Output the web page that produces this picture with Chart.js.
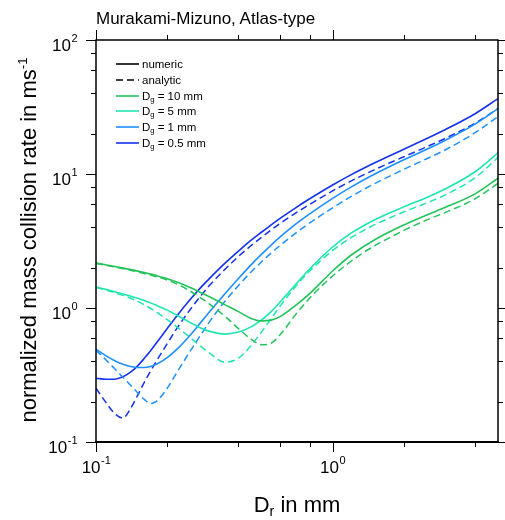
<!DOCTYPE html>
<html>
<head>
<meta charset="utf-8">
<script src="https://cdn.jsdelivr.net/npm/chart.js@4.4.1/dist/chart.umd.min.js"></script>
<style>
  html, body { margin: 0; padding: 0; background: #fff; }
  #wrap { position: relative; width: 505px; height: 520px; font-family: "Liberation Sans", Arial, sans-serif; color: #000; }
  #wrap canvas { position: absolute; left: 0; top: 0; }
  .lbl { position: absolute; white-space: nowrap; }
  #title { left: 96px; top: 9px; font-size: 17px; line-height: 20px; }
  #xtitle { left: 197px; width: 200px; top: 494px; text-align: center; font-size: 22px; line-height: 22px; }
  #ytitle { left: -181px; width: 420px; top: 229px; text-align: center; font-size: 22px; line-height: 22px; transform: rotate(-90deg); }
  sub { font-size: 0.65em; vertical-align: -0.3em; line-height: 0; }
  sup { font-size: 0.6em; vertical-align: 0.7em; line-height: 0; }
  .row { position: absolute; left: 116px; height: 16px; font-size: 11.5px; line-height: 16px; white-space: nowrap; }
  .row svg { position: absolute; left: 0; top: 0; }
  .row span { position: absolute; left: 26px; top: 0; }
</style>
</head>
<body>
<div id="wrap">
  <canvas id="chart" width="505" height="520"></canvas>
  <div class="lbl" id="title">Murakami-Mizuno, Atlas-type</div>
  <div class="lbl" id="xtitle">D<sub>r</sub> in mm</div>
  <div class="lbl" id="ytitle">normalized mass collision rate in ms<sup>-1</sup></div>
  <div id="legend"></div>
</div>
<script>
// rain drop diameter D_r in mm
const diameters = [0.1, 0.11, 0.12, 0.13, 0.14, 0.15, 0.16, 0.17, 0.18, 0.2, 0.22, 0.25, 0.28, 0.3, 0.35,
  0.4, 0.45, 0.5, 0.55, 0.6, 0.7, 0.8, 1, 1.2, 1.5, 2, 2.5, 3, 4, 5];

// Dg = 10 mm
const numeric10 = [2.167, 2.1, 2.04, 1.985, 1.934, 1.885, 1.836, 1.79, 1.745, 1.656, 1.563, 1.421, 1.292, 1.217, 1.06,
  0.94, 0.84, 0.801, 0.812, 0.863, 1.051, 1.282, 1.888, 2.486, 3.22, 4.169, 4.953, 5.637, 7.11, 9.29];
const analytic10 = [2.148, 2.083, 2.023, 1.964, 1.91, 1.859, 1.808, 1.759, 1.711, 1.617, 1.509, 1.337, 1.175, 1.079, 0.87,
  0.701, 0.59, 0.532, 0.546, 0.632, 0.9, 1.186, 1.733, 2.243, 2.904, 3.793, 4.543, 5.171, 6.526, 8.516];

// Dg = 5 mm
const numeric5 = [1.433, 1.378, 1.324, 1.274, 1.227, 1.182, 1.136, 1.092, 1.047, 0.964, 0.882, 0.778, 0.704, 0.672, 0.638,
  0.661, 0.72, 0.813, 0.94, 1.107, 1.509, 1.954, 2.853, 3.631, 4.543, 5.683, 6.69, 7.75, 10.39, 14.39];
const analytic5 = [1.421, 1.361, 1.301, 1.242, 1.182, 1.12, 1.057, 0.995, 0.932, 0.819, 0.72, 0.601, 0.51, 0.464, 0.394,
  0.422, 0.519, 0.661, 0.833, 1.033, 1.458, 1.888, 2.688, 3.362, 4.169, 5.212, 6.092, 6.985, 9.38, 13.25];

// Dg = 1 mm
const numeric1 = [0.493, 0.441, 0.404, 0.38, 0.366, 0.36, 0.36, 0.366, 0.38, 0.426, 0.493, 0.627, 0.798, 0.924, 1.27,
  1.66, 2.08, 2.51, 2.95, 3.39, 4.24, 5.04, 6.58, 8.02, 9.95, 12.77, 15.3, 17.87, 23.54, 30.74];
const analytic1 = [0.484, 0.411, 0.352, 0.304, 0.265, 0.233, 0.208, 0.194, 0.201, 0.252, 0.332, 0.476, 0.649, 0.778, 1.117,
  1.471, 1.84, 2.205, 2.574, 2.929, 3.632, 4.315, 5.587, 6.81, 8.45, 10.84, 13.0, 15.17, 20.33, 26.78];

// Dg = 0.5 mm
const numeric05 = [0.299, 0.294, 0.294, 0.307, 0.332, 0.37, 0.421, 0.48, 0.548, 0.703, 0.877, 1.156, 1.449, 1.644, 2.152,
  2.661, 3.177, 3.675, 4.176, 4.663, 5.617, 6.53, 8.28, 9.9, 12.08, 15.32, 18.39, 21.48, 28.17, 36.5];
const analytic05 = [0.252, 0.198, 0.163, 0.151, 0.178, 0.223, 0.279, 0.337, 0.401, 0.542, 0.707, 0.973, 1.259, 1.458, 1.936,
  2.423, 2.901, 3.362, 3.826, 4.279, 5.128, 5.934, 7.48, 8.89, 10.74, 13.45, 15.97, 18.48, 23.93, 30.74];

// ticks
const xTicks = [0.1, 0.2, 0.4, 0.6, 0.8, 1, 2, 4];
const yTicks = [0.1, 0.2, 0.4, 0.6, 0.8, 1, 2, 4, 6, 8, 10, 20, 40, 60, 80, 100];
const xMajor = [0.1, 1];
const xMajorExp = ["-1", "0"];
const yMajor = [0.1, 1, 10, 100];
const yMajorExp = ["-1", "0", "1", "2"];

const series = [
  { name: "10 mm", color: "#22c35a", numeric: numeric10, analytic: analytic10 },
  { name: "5 mm", color: "#1ee6b0", numeric: numeric5, analytic: analytic5 },
  { name: "1 mm", color: "#1e90ff", numeric: numeric1, analytic: analytic1 },
  { name: "0.5 mm", color: "#1432f0", numeric: numeric05, analytic: analytic05 },
];

const dash = [7, 4];
let datasets = [];
series.forEach((s) => {
  datasets.push({
    data: diameters.map((d, i) => ({ x: d, y: s.analytic[i] })),
    borderColor: s.color,
    borderWidth: 1.5,
    borderDash: dash,
  });
  datasets.push({
    data: diameters.map((d, i) => ({ x: d, y: s.numeric[i] })),
    borderColor: s.color,
    borderWidth: 1.6,
  });
});

// legend rows (html, so D_g can have a real subscript)
let legendRows = [
  { html: "numeric", color: "#000", dashed: false },
  { html: "analytic", color: "#000", dashed: true },
];
series.forEach((s) => legendRows.push({ html: "D<sub>g</sub> = " + s.name, color: s.color, dashed: false }));

let legend = document.getElementById("legend");
legendRows.forEach((r, i) => {
  let top = 56 + i * 15.8;
  legend.innerHTML += `<div class="row" style="top:${top}px">
    <svg width="24" height="16"><line x1="0" y1="8" x2="23" y2="8" stroke="${r.color}" stroke-width="1.6"
      ${r.dashed ? 'stroke-dasharray="7,4"' : ""}/></svg>
    <span>${r.html}</span></div>`;
});

// frame, outward tick marks and 10^n labels
const frameTicks = {
  id: "frameTicks",
  afterDraw(chart) {
    const { ctx, chartArea: a, scales } = chart;
    const x = scales.x, y = scales.y;
    ctx.save();
    ctx.strokeStyle = "#000";
    ctx.lineWidth = 1;
    ctx.beginPath();
    xTicks.forEach((v) => {
      let px = Math.round(x.getPixelForValue(v)) + 0.5;
      let len = xMajor.includes(v) ? 10 : 5;
      ctx.moveTo(px, a.bottom); ctx.lineTo(px, a.bottom + len);
      ctx.moveTo(px, a.top); ctx.lineTo(px, a.top - len);
    });
    yTicks.forEach((v) => {
      let py = Math.round(y.getPixelForValue(v)) + 0.5;
      let len = yMajor.includes(v) ? 10 : 5;
      ctx.moveTo(a.left, py); ctx.lineTo(a.left - len, py);
      ctx.moveTo(a.right, py); ctx.lineTo(a.right + len, py);
    });
    ctx.stroke();

    ctx.lineWidth = 1.5;
    ctx.strokeRect(a.left, a.top, a.right - a.left, a.bottom - a.top);
    ctx.lineWidth = 2;
    ctx.beginPath();
    ctx.moveTo(a.left - 1, a.bottom); ctx.lineTo(a.right + 1, a.bottom);
    ctx.stroke();

    const base = '17px "Liberation Sans", Arial, sans-serif';
    const small = '11px "Liberation Sans", Arial, sans-serif';
    ctx.fillStyle = "#000";
    ctx.textBaseline = "alphabetic";
    ctx.textAlign = "left";
    yMajor.forEach((v, i) => {
      let py = y.getPixelForValue(v);
      ctx.font = base;
      let w1 = ctx.measureText("10").width;
      ctx.font = small;
      let w2 = ctx.measureText(yMajorExp[i]).width;
      let left = a.left - 19 - w1 - w2;
      ctx.font = base;
      ctx.fillText("10", left, py + 11);
      ctx.font = small;
      ctx.fillText(yMajorExp[i], left + w1 + 0.5, py + 2);
    });
    xMajor.forEach((v, i) => {
      let px = x.getPixelForValue(v);
      ctx.font = base;
      let w1 = ctx.measureText("10").width;
      ctx.font = small;
      let w2 = ctx.measureText(xMajorExp[i]).width;
      let left = px - (w1 + w2) / 2;
      ctx.font = base;
      ctx.fillText("10", left, a.bottom + 31);
      ctx.font = small;
      ctx.fillText(xMajorExp[i], left + w1 + 0.5, a.bottom + 22);
    });
    ctx.restore();
  },
};

const config = {
  type: "scatter",
  data: { datasets: datasets },
  options: {
    responsive: false,
    animation: false,
    events: [],
    showLine: true,
    elements: {
      point: { radius: 0 },
      line: { cubicInterpolationMode: "monotone", fill: false },
    },
    layout: { padding: { top: 40, right: 7, left: 0, bottom: 0 } },
    plugins: { legend: { display: false }, tooltip: { enabled: false } },
    scales: {
      x: {
        type: "logarithmic",
        min: 0.1,
        max: 5,
        grid: { display: false, drawTicks: false },
        border: { display: false },
        ticks: { display: false },
        afterFit(scale) { scale.height = 78; },
      },
      y: {
        type: "logarithmic",
        min: 0.1,
        max: 100,
        grid: { display: false, drawTicks: false },
        border: { display: false },
        ticks: { display: false },
        afterFit(scale) { scale.width = 96; },
      },
    },
  },
  plugins: [frameTicks],
};

new Chart(document.getElementById("chart"), config);
</script>
</body>
</html>
